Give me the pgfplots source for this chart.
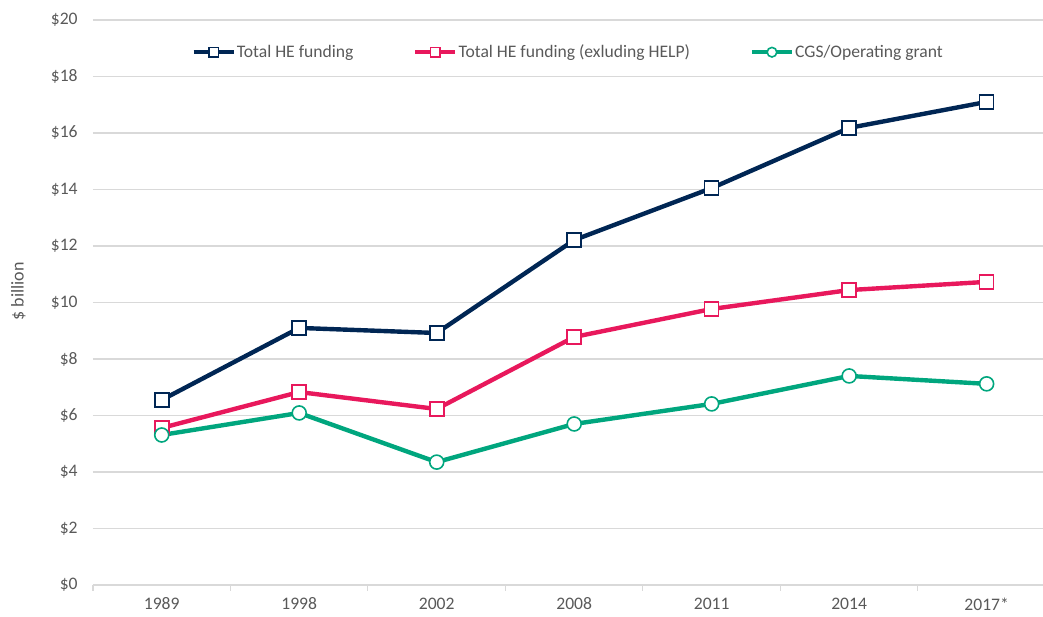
\documentclass[border=0pt]{standalone}
\usepackage{fontspec}
\setmainfont{Carlito}
\usepackage{pgfplots}
\pgfplotsset{compat=1.18}
\definecolor{navyline}{RGB}{0,38,84}
\definecolor{pinkline}{RGB}{232,24,92}
\definecolor{greenline}{RGB}{0,166,126}
\definecolor{labelgray}{RGB}{89,89,89}
\definecolor{gridgray}{RGB}{217,217,217}

\begin{document}
\begin{tikzpicture}
\begin{axis}[
    name=ax,
    scale only axis,
    width=712.5pt, height=423.75pt,
    xmin=-0.5, xmax=6.41,
    ymin=0, ymax=20,
    axis x line*=bottom,
    axis y line*=left,
    axis line style={-},
    x axis line style={draw=gridgray, line width=1pt},
    y axis line style={draw=none},
    xtick={0,...,6},
    xticklabels={1989,1998,2002,2008,2011,2014,2017*},
    minor xtick={-0.5,0.5,...,5.5},
    ytick={0,2,...,20},
    yticklabels={\$0,\$2,\$4,\$6,\$8,\$10,\$12,\$14,\$16,\$18,\$20},
    major tick length=0pt,
    minor tick length=4.5pt,
    tick align=outside,
    minor tick style={draw=gridgray, line width=0.8pt},
    ymajorgrids=true,
    grid style={draw=gridgray, line width=0.8pt},
    tick label style={font=\fontsize{13.2}{15}\selectfont, text=labelgray},
    xticklabel style={yshift=-6pt},
    yticklabel style={xshift=-8pt},
    ylabel={\$ billion},
    every axis y label/.style={at={(axis description cs:-0.0786,0.52)}, rotate=90, anchor=center,
        font=\fontsize{13.5}{15}\selectfont, text=labelgray},
    legend columns=3,
    legend style={at={(axis description cs:0.5,0.943)}, anchor=center, draw=none, fill=none,
        font=\fontsize{13.2}{15}\selectfont, text=labelgray,
        nodes={inner sep=1pt},
        /tikz/every even column/.append style={column sep=44pt}},
    legend image code/.code={
        \draw[mark repeat=2, mark phase=2, #1, mark size=3.6pt, line width=2.8pt]
            plot coordinates {(0pt,0pt) (15pt,0pt) (30pt,0pt)};},
    every axis plot/.append style={line width=3.3pt},
]
\addplot[color=navyline, mark=square*, mark size=5.25pt,
    mark options={fill=white, draw=navyline, line width=1.2pt}]
    coordinates {(0,6.55) (1,9.10) (2,8.92) (3,12.21) (4,14.05) (5,16.18) (6,17.10)};
\addlegendentry{Total HE funding}
\addplot[color=pinkline, mark=square*, mark size=5.25pt,
    mark options={fill=white, draw=pinkline, line width=1.2pt}]
    coordinates {(0,5.56) (1,6.83) (2,6.23) (3,8.78) (4,9.77) (5,10.44) (6,10.73)};
\addlegendentry{Total HE funding (exluding HELP)}
\addplot[color=greenline, mark=*, mark size=5.25pt,
    mark options={fill=white, draw=greenline, line width=1.2pt}]
    coordinates {(0,5.31) (1,6.09) (2,4.35) (3,5.70) (4,6.41) (5,7.40) (6,7.12)};
\addlegendentry{CGS/Operating grant}
\end{axis}
\pgfresetboundingbox
\path ([xshift=-69.75pt,yshift=-24pt]ax.south west) rectangle ([yshift=15pt]ax.north east);
\end{tikzpicture}
\end{document}
